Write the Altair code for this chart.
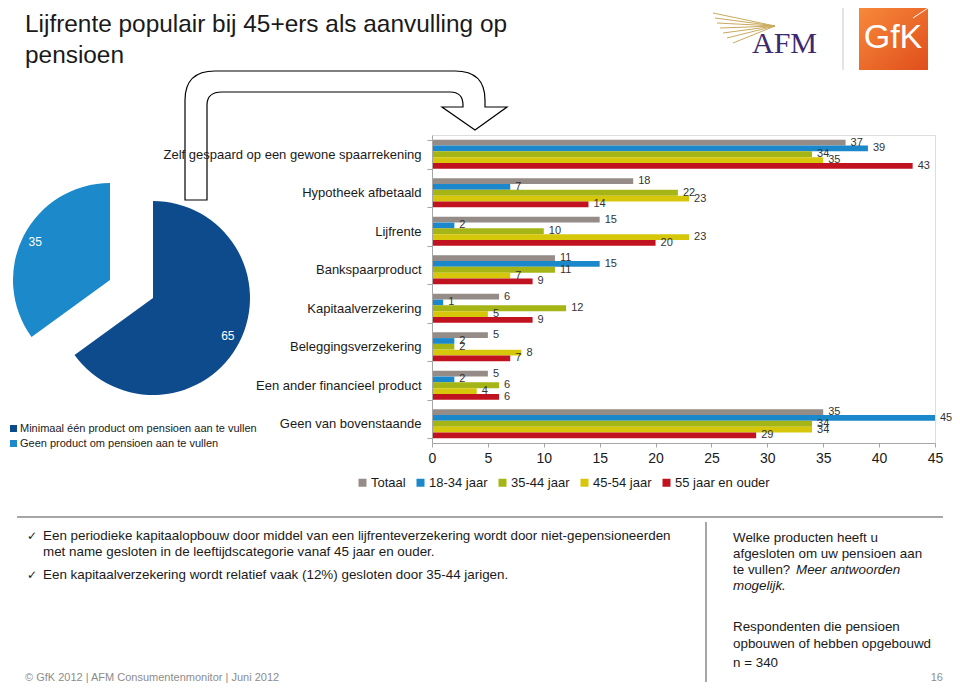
import math
import altair as alt
import pandas as pd

# ---------------- data ----------------
categories = [
    "Zelf gespaard op een gewone spaarrekening",
    "Hypotheek afbetaald",
    "Lijfrente",
    "Bankspaarproduct",
    "Kapitaalverzekering",
    "Beleggingsverzekering",
    "Een ander financieel product",
    "Geen van bovenstaande",
]
series = ["Totaal", "18-34 jaar", "35-44 jaar", "45-54 jaar", "55 jaar en ouder"]
totaal = [37, 18, 15, 11, 6, 5, 5, 35]
jaar_18_34 = [39, 7, 2, 15, 1, 2, 2, 45]
jaar_35_44 = [34, 22, 10, 11, 12, 2, 6, 34]
jaar_45_54 = [35, 23, 23, 7, 5, 8, 4, 34]
jaar_55 = [43, 14, 20, 9, 9, 7, 6, 29]
series_colors = ["#958c88", "#1a88cb", "#a6b516", "#d6c70b", "#c1121f"]
x_ticks = [0, 5, 10, 15, 20, 25, 30, 35, 40, 45]

pie_labels = ["Minimaal één product om pensioen aan te vullen",
              "Geen product om pensioen aan te vullen"]
pie_values = [65, 35]
pie_colors = ["#0d4b8d", "#1b89ca"]

# ---------------- tables ----------------
rows = []
for s, vals in zip(series, [totaal, jaar_18_34, jaar_35_44, jaar_45_54, jaar_55]):
    for c, v in zip(categories, vals):
        rows.append({"category": c, "series": s, "value": v})
bar_df = pd.DataFrame(rows)
pie_df = pd.DataFrame({"label": pie_labels, "value": pie_values, "order": [0, 1]})
one = pd.DataFrame({"k": [0]})

FONT = "Liberation Sans"

# ---------------- bar chart ----------------
y_enc = alt.Y(
    "category:N", sort=categories,
    scale=alt.Scale(paddingInner=0.25, paddingOuter=0.125),
    axis=alt.Axis(title=None, labelFontSize=13, labelColor="#1a1a1a", labelLimit=400,
                  labelPadding=6, domainColor="#a6a6a6", tickColor="#a6a6a6", tickSize=5,
                  tickBand="extent", zindex=1, labelFont=FONT),
)
yoff = alt.YOffset("series:N", sort=series,
                   scale=alt.Scale(domain=series, paddingInner=0, paddingOuter=0))
x_enc = alt.X(
    "value:Q", scale=alt.Scale(domain=[0, 45], nice=False),
    axis=alt.Axis(title=None, values=x_ticks, labelFontSize=14, labelColor="#1a1a1a",
                  domainColor="#a6a6a6", tickColor="#a6a6a6", tickSize=4, grid=False,
                  labelPadding=4, labelFlush=False, labelFont=FONT),
)
bars = alt.Chart(bar_df).mark_bar().encode(
    x=x_enc, y=y_enc, yOffset=yoff,
    color=alt.Color("series:N", sort=series,
                    scale=alt.Scale(domain=series, range=series_colors),
                    legend=alt.Legend(orient="none", legendX=-76, legendY=341,
                                      direction="horizontal", title=None, padding=0,
                                      symbolType="square", symbolSize=64,
                                      labelFontSize=13, labelFont=FONT,
                                      labelColor="#1a1a1a", columnPadding=8,
                                      labelOffset=2, labelLimit=300)),
)
bar_labels = alt.Chart(bar_df).mark_text(
    align="left", baseline="middle", dx=5, fontSize=11, color="#333333", font=FONT
).encode(x="value:Q", y=alt.Y("category:N", sort=categories), yOffset=yoff, text="value:Q")

# ---------------- exploded pie ----------------
theta_scale = alt.Scale(domain=[0, 100], range=[0, 2 * math.pi])
pie_color = alt.Color("label:N", scale=alt.Scale(domain=pie_labels, range=pie_colors),
                      legend=alt.Legend(orient="none", legendX=-424, legendY=288,
                                        direction="vertical", title=None, padding=0,
                                        symbolType="square", symbolSize=49,
                                        labelFontSize=11, labelFont=FONT,
                                        labelColor="#1a1a1a", rowPadding=3,
                                        labelOffset=1, labelLimit=400))
pie_base = alt.Chart(pie_df).transform_window(
    end="sum(value)", sort=[alt.SortField("order")], frame=[None, 0]
).transform_calculate(start="datum.end - datum.value", mid="datum.end - datum.value / 2")


def pie_slice(label, cx, cy):
    b = pie_base.transform_filter(alt.datum.label == label)
    arc = b.mark_arc(outerRadius=97).encode(
        theta=alt.Theta("start:Q", stack=None, scale=theta_scale),
        theta2=alt.Theta2("end:Q"),
        color=pie_color, x=alt.value(cx), y=alt.value(cy))
    t = b.mark_text(radius=84, fontSize=12, color="white", font=FONT).encode(
        theta=alt.Theta("mid:Q", stack=None, scale=theta_scale),
        text="value:Q", x=alt.value(cx), y=alt.value(cy))
    return arc + t


pie = alt.layer(pie_slice(pie_labels[0], -279, 163), pie_slice(pie_labels[1], -322, 145))

# ---------------- decorations ----------------
ARROW = ("M-161,65 L-161,-35 Q-161,-64 -131,-64 L109,-64 Q139,-64 139,-35 L139,-28 "
         "L161,-28 L129,-5 L96,-28 L117,-28 L117,-30 Q117,-43 104,-43 L-124,-43 "
         "Q-139,-43 -139,-30 L-139,65 Z")
arrow = alt.Chart(one).mark_point(shape=ARROW, size=4, filled=True, fill="white",
                                  stroke="black", strokeWidth=1.2, opacity=1).encode(
    x=alt.value(-86), y=alt.value(0))

FAN = ("M-62,-13 L0,0 M-60,-8 L0,0 M-58,-3 L0,0 M-55,2 L0,0 M-52,7 L0,0 "
       "M-48,12 L0,0 M-42,17 L0,0")
fan = alt.Chart(one).mark_point(shape=FAN, size=4, filled=False, stroke="#c9a95c",
                                strokeWidth=1, opacity=1).encode(
    x=alt.value(343), y=alt.value(-109))


def txt(s, x, y, size=13.4, color="#1a1a1a", align="left", font=FONT, style="normal",
        baseline="alphabetic"):
    return alt.Chart(one).mark_text(text=s, fontSize=size, color=color, align=align,
                                    baseline=baseline, font=font, fontStyle=style).encode(
        x=alt.value(x), y=alt.value(y))


def rule(x, y, x2=None, y2=None, color="#a6a6a6", width=1.0):
    enc = {"x": alt.value(x), "y": alt.value(y)}
    if x2 is not None:
        enc["x2"] = alt.value(x2)
    if y2 is not None:
        enc["y2"] = alt.value(y2)
    return alt.Chart(one).mark_rule(color=color, strokeWidth=width).encode(**enc)


gradient = alt.LinearGradient(
    gradient="linear",
    stops=[alt.GradientStop(color="#f7893a", offset=0),
           alt.GradientStop(color="#e04e1c", offset=1)],
    x1=0, y1=0, x2=1, y2=1)
gfk_box = alt.Chart(one).mark_rect(color=gradient).encode(
    x=alt.value(427), x2=alt.value(496), y=alt.value(-127), y2=alt.value(-65))

decor = [
    txt("Lijfrente populair bij 45+ers als aanvulling op", -407, -103, size=24.4),
    txt("pensioen", -407, -72, size=24.4),
    txt("AFM", 320, -82, size=30, color="#3c2a6e", font="Liberation Serif"),
    fan,
    rule(411, -127, y2=-65, color="#c8c8c8"),
    gfk_box,
    rule(481, -117, x2=496, y2=-127, color="#ffffff"),
    txt("GfK", 461, -97, size=34, color="white", align="center", baseline="middle"),
    rule(-415, 382, x2=511, color="#a6a6a6", width=2),
    rule(274, 387, y2=547, color="#a6a6a6", width=2),
    txt("✓", -405, 405, size=12, font="DejaVu Sans"),
    txt("Een periodieke kapitaalopbouw door middel van een lijfrenteverzekering wordt door niet-gepensioneerden",
        -389, 405),
    txt("met name gesloten in de leeftijdscategorie vanaf 45 jaar en ouder.", -389, 421),
    txt("✓", -405, 444, size=12, font="DejaVu Sans"),
    txt("Een kapitaalverzekering wordt relatief vaak (12%) gesloten door 35-44 jarigen.", -389, 444),
    txt("Welke producten heeft u", 301, 407),
    txt("afgesloten om uw pensioen aan", 301, 423),
    txt("te vullen?", 301, 439),
    txt("Meer antwoorden", 364, 439, style="italic"),
    txt("mogelijk.", 301, 455, style="italic"),
    txt("Respondenten die pensioen", 301, 496),
    txt("opbouwen of hebben opgebouwd", 301, 513),
    txt("n = 340", 301, 532),
    txt("© GfK 2012 | AFM Consumentenmonitor | Juni 2012", -407, 546, size=11, color="#8c8c8c"),
    txt("16", 511, 546, size=11, color="#8c8c8c", align="right"),
]

chart = alt.layer(arrow, bars, bar_labels, pie, *decor).resolve_scale(
    color="independent"
).properties(
    width=503, height=308,
    autosize=alt.AutoSizeParams(type="none"),
    padding={"left": 424, "top": 127, "right": 17, "bottom": 242},
    background="white",
).configure_view(stroke=None).configure(font=FONT)

chart.save("out.html", embed_options={"renderer": "svg", "actions": False})
